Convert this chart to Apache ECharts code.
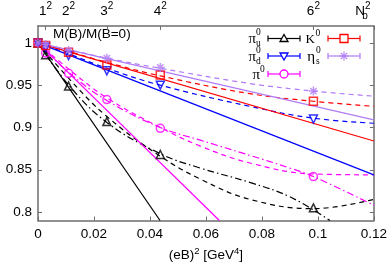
<!DOCTYPE html>
<html><head><meta charset="utf-8">
<script src="https://cdn.jsdelivr.net/npm/echarts@6/dist/echarts.min.js"></script>
<style>html,body{margin:0;padding:0;background:#fff}#c{width:390px;height:273px}</style>
</head><body><div id="c"></div>
<script>
// ---- data ----
const xB = [0, 0.00273, 0.01093, 0.0246, 0.0437, 0.0984];
const piU = [1, 0.986, 0.949, 0.907, 0.868, 0.805];
const piD = [1, 0.995, 0.985, 0.967, 0.950, 0.910];
const pi0 = [1, 0.988, 0.964, 0.933, 0.899, 0.842];
const K0  = [1, 0.997, 0.989, 0.974, 0.962, 0.931];
const etaS = [1, 0.998, 0.991, 0.982, 0.971, 0.943];

// fit curves, [x, y]
const piUSolid = [[0, 1], [0.0436, 0.79]];
const piUDash = [[0, 1], [0.011, 0.958], [0.0246, 0.913], [0.0437, 0.866], [0.058, 0.839], [0.0757, 0.815], [0.0984, 0.804], [0.12, 0.815]];
const piUDashDot = [[0, 1], [0.011, 0.950], [0.0246, 0.906], [0.0437, 0.869], [0.058, 0.852], [0.0757, 0.835], [0.09, 0.818], [0.1043, 0.79]];
const pi0Solid = [[0, 1], [0.0648, 0.79]];
const pi0Dash = [[0, 1], [0.011, 0.969], [0.0246, 0.935], [0.0437, 0.900], [0.058, 0.878], [0.0757, 0.858], [0.0984, 0.845], [0.12, 0.844]];
const pi0DashDot = [[0, 1], [0.011, 0.965], [0.0246, 0.932], [0.0437, 0.900], [0.058, 0.885], [0.0757, 0.867], [0.09, 0.852], [0.0984, 0.842], [0.12, 0.808]];
const piDSolid = [[0, 1], [0.12, 0.844]];
const piDDash = [[0, 1], [0.011, 0.987], [0.0246, 0.970], [0.0437, 0.950], [0.0757, 0.925], [0.0984, 0.911], [0.12, 0.905]];
const K0Solid = [[0, 1], [0.12, 0.884]];
const K0Dash = [[0, 1], [0.011, 0.990], [0.0246, 0.977], [0.0437, 0.961], [0.0757, 0.940], [0.0984, 0.931], [0.12, 0.925]];
const etaSolid = [[0, 1], [0.12, 0.909]];
const etaDash = [[0, 1], [0.011, 0.992], [0.0246, 0.982], [0.0437, 0.970], [0.0757, 0.952], [0.0984, 0.943], [0.12, 0.937]];

const xTicks = [0, 0.02, 0.04, 0.06, 0.08, 0.1, 0.12];
const xTickLabels = ['0', '0.02', '0.04', '0.06', '0.08', '0.1', '0.12'];
const yTicks = [0.8, 0.85, 0.9, 0.95, 1];
const yTickLabels = ['0.8', '0.85', '0.9', '0.95', '1'];
const topTicks = [0.00273, 0.01093, 0.0246, 0.0437, 0.0984, 0.12];
const topTickLabels = ['1', '2', '3', '4', '6', 'N'];

// ---- styles ----
const C = {piU: '#000000', piD: '#0000ff', pi0: '#ff00ff', K0: '#ff0000', eta: '#b07cf5'};
const FONT = 'Liberation Sans';
const SERIF = 'Liberation Serif';
const AX = '#6e6e6e';
const DASH = [5, 4];
const DASHDOT = [7, 3, 1.5, 3];

function pairs(xs, ys) { return xs.map((x, i) => [x, ys[i]]); }
function pick(vals, labels, v) {
  for (let i = 0; i < vals.length; i++) if (Math.abs(vals[i] - v) < 1e-6) return labels[i];
  return '';
}
const series = [];
function lineS(data, color, type) {
  series.push({type: 'line', data, symbol: 'none', smooth: data.length > 2 ? 0.4 : false,
    lineStyle: {color, width: 1.2, type}, z: 2, silent: true, animation: false});
}
function mark(ys, color, symbol, size, rot) {
  series.push({type: 'scatter', data: pairs(xB, ys), symbol, symbolSize: size, symbolRotate: rot || 0,
    itemStyle: {color: 'rgba(255,255,255,0)', borderColor: color, borderWidth: 1.5}, z: 5, silent: true, animation: false});
}
lineS(piUSolid, C.piU, 'solid'); lineS(piUDash, C.piU, DASH); lineS(piUDashDot, C.piU, DASHDOT);
lineS(pi0Solid, C.pi0, 'solid'); lineS(pi0Dash, C.pi0, DASH); lineS(pi0DashDot, C.pi0, DASHDOT);
lineS(piDSolid, C.piD, 'solid'); lineS(piDDash, C.piD, DASH);
lineS(K0Solid, C.K0, 'solid'); lineS(K0Dash, C.K0, DASH);
lineS(etaSolid, C.eta, 'solid'); lineS(etaDash, C.eta, DASH);
const ASTER = 'path://M0,-1L0,1M-1,0L1,0M-0.7,-0.7L0.7,0.7M-0.7,0.7L0.7,-0.7';
mark(piU, C.piU, 'triangle', 8);
mark(pi0, C.pi0, 'circle', 8);
mark(piD, C.piD, 'triangle', 8, 180);
mark(K0, C.K0, 'rect', 8);
mark(etaS, C.eta, ASTER, 9);

// ---- legend drawn with graphic elements ----
const graphic = [];
function legendEntry(x0, y, color, shape) {
  const x1 = x0 + 32, xm = (x0 + x1) / 2;
  const ls = {stroke: color, lineWidth: 1.2};
  graphic.push({type: 'line', shape: {x1: x0, y1: y, x2: x1, y2: y}, style: ls});
  graphic.push({type: 'line', shape: {x1: x0, y1: y - 3, x2: x0, y2: y + 3}, style: ls});
  graphic.push({type: 'line', shape: {x1: x1, y1: y - 3, x2: x1, y2: y + 3}, style: ls});
  const ms = {stroke: color, lineWidth: 1.3, fill: '#fff'};
  if (shape === 'up') graphic.push({type: 'polygon', shape: {points: [[xm, y - 4], [xm - 4, y + 3], [xm + 4, y + 3]]}, style: ms});
  if (shape === 'down') graphic.push({type: 'polygon', shape: {points: [[xm, y + 4], [xm - 4, y - 3], [xm + 4, y - 3]]}, style: ms});
  if (shape === 'circle') graphic.push({type: 'circle', shape: {cx: xm, cy: y, r: 4}, style: ms});
  if (shape === 'rect') graphic.push({type: 'rect', shape: {x: xm - 4, y: y - 4, width: 8, height: 8}, style: ms});
  if (shape === 'aster') {
    [[0, -4.5, 0, 4.5], [-4.5, 0, 4.5, 0], [-3.2, -3.2, 3.2, 3.2], [-3.2, 3.2, 3.2, -3.2]].forEach(s =>
      graphic.push({type: 'line', shape: {x1: xm + s[0], y1: y + s[1], x2: xm + s[2], y2: y + s[3]}, style: {stroke: color, lineWidth: 1.1}}));
  }
}
function txt(x, y, text, size, align, family) {
  graphic.push({type: 'text', x, y, style: {text, fontSize: size, fontFamily: family || SERIF, fill: '#000', align: align || 'left', verticalAlign: 'middle'}});
}
legendEntry(268, 38.5, C.piU, 'up');
legendEntry(268, 56, C.piD, 'down');
legendEntry(268, 74, C.pi0, 'circle');
legendEntry(328, 38.5, C.K0, 'rect');
legendEntry(328, 56, C.eta, 'aster');
// labels
txt(256, 39, '\u03c0', 15, 'right'); txt(256, 32.5, '0', 9.5); txt(256, 43.5, 'u', 9.5);
txt(256, 57, '\u03c0', 15, 'right'); txt(256, 50.5, '0', 9.5); txt(256, 61, 'd', 9.5);
txt(260, 75, '\u03c0', 15, 'right'); txt(260, 69, '0', 9.5);
txt(315, 40, 'K', 13, 'right'); txt(315.5, 33.5, '0', 9.5);
txt(315, 57, '\u03b7', 15, 'right'); txt(316, 50.5, '0', 9.5); txt(316, 61, 's', 9.5);
// title
graphic.push({type: 'text', x: 53, y: 34.5, style: {text: 'M(B)/M(B=0)', fontSize: 13.5, fontFamily: FONT, fill: '#000', align: 'left', verticalAlign: 'middle'}});

const labelBase = {fontSize: 13.5, fontFamily: FONT, color: '#000'};
const axisLineStyle = {show: true, onZero: false, lineStyle: {color: AX, width: 1.5}};

const option = {
  animation: false,
  backgroundColor: '#fff',
  grid: {left: 38, right: 16, top: 26, bottom: 52.5, containLabel: false},
  xAxis: [
    {type: 'value', position: 'bottom', min: 0, max: 0.12,
      axisLine: axisLineStyle,
      axisTick: {show: true, inside: true, length: 4, customValues: xTicks, lineStyle: {color: AX, width: 1}},
      axisLabel: Object.assign({customValues: xTicks, margin: 7, showMinLabel: true, showMaxLabel: true, hideOverlap: false,
        formatter: v => pick(xTicks, xTickLabels, v)}, labelBase),
      splitLine: {show: false},
      name: '{a|(eB)}{s|2}{a| [GeV}{s|4}{a|]}', nameLocation: 'middle', nameGap: 26,
      nameTextStyle: {fontSize: 13.5, fontFamily: FONT, color: '#000', rich: {
        a: {fontSize: 13.5, fontFamily: FONT, color: '#000', lineHeight: 18},
        s: {fontSize: 9.5, fontFamily: FONT, color: '#000', lineHeight: 11, verticalAlign: 'top'}}}},
    {type: 'value', position: 'top', min: 0, max: 0.12,
      axisLine: axisLineStyle,
      axisTick: {show: true, inside: true, length: 4, customValues: topTicks, lineStyle: {color: AX, width: 1}},
      axisLabel: Object.assign({customValues: topTicks, margin: 5, showMinLabel: true, showMaxLabel: true, hideOverlap: false,
        formatter: v => {
          const l = pick(topTicks, topTickLabels, v);
          if (l === 'N') return '{n|N}{b|b}{p|2}{w|}';
          return '{n|' + l + '}{p|2}';
        },
        rich: {
          n: {fontSize: 13.5, fontFamily: FONT, color: '#000', lineHeight: 20},
          p: {fontSize: 10, fontFamily: FONT, color: '#000', lineHeight: 12, verticalAlign: 'top'},
          b: {fontSize: 10, fontFamily: FONT, color: '#000', lineHeight: 10, verticalAlign: 'bottom', width: 0.01},
          w: {width: 22}
        }}, labelBase),
      splitLine: {show: false}}
  ],
  yAxis: [
    {type: 'value', position: 'left', min: 0.79, max: 1.02,
      axisLine: axisLineStyle,
      axisTick: {show: true, inside: true, length: 4, customValues: yTicks, lineStyle: {color: AX, width: 1}},
      axisLabel: Object.assign({customValues: yTicks, margin: 6, showMinLabel: true, showMaxLabel: true, hideOverlap: false,
        formatter: v => pick(yTicks, yTickLabels, v)}, labelBase),
      splitLine: {show: false}},
    {type: 'value', position: 'right', min: 0.79, max: 1.02,
      axisLine: axisLineStyle,
      axisTick: {show: true, inside: true, length: 4, customValues: yTicks, lineStyle: {color: AX, width: 1}},
      axisLabel: {show: false},
      splitLine: {show: false}}
  ],
  series,
  graphic
};
const chart = echarts.init(document.getElementById('c'));
chart.setOption(option);
</script></body></html>
